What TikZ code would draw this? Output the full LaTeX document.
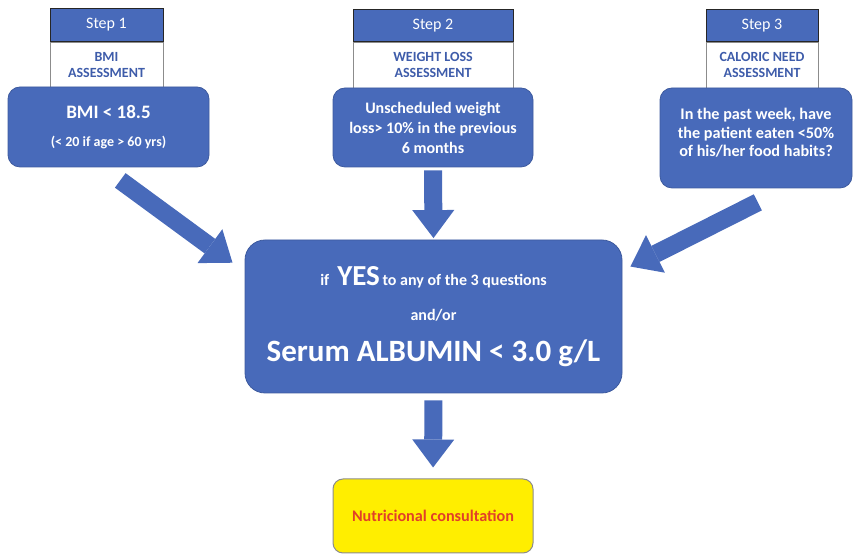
\documentclass[tikz,border=0pt]{standalone}
\usepackage{fontspec}
\setmainfont{Carlito}
\usetikzlibrary{arrows.meta}
\definecolor{boxblue}{RGB}{72,106,186}
\definecolor{labelblue}{RGB}{62,92,170}
\definecolor{signyellow}{RGB}{255,238,0}
\definecolor{signred}{RGB}{225,64,40}
\tikzset{
  stephead/.style={fill=boxblue, draw=black!85, line width=1pt, text=white,
    minimum height=33pt, inner sep=0pt, font=\fontsize{16}{18}\selectfont},
  steplabel/.style={fill=white, draw=black!45, line width=0.6pt, text=labelblue,
    minimum height=46pt, align=center, inner sep=0pt,
    font=\bfseries\fontsize{14}{15.5}\selectfont},
  question/.style={fill=boxblue, draw=boxblue!85!black, line width=0.8pt,
    rounded corners=12pt, text=white, align=center, inner sep=0pt,
    font=\bfseries\fontsize{16}{20}\selectfont},
  bigarrow/.style={draw=boxblue, line width=18pt,
    -{Triangle[width=42pt,length=28pt,line width=0pt]}}
}
\begin{document}
\begin{tikzpicture}[x=1pt,y=1pt]
	%%%%% START %%%%%
	\useasboundingbox (0,0) rectangle (855,556);
	
	% step 1
	\node[steplabel, minimum width=113pt] (lab1) at (106.5,491) {BMI\\ASSESSMENT};
	\node[stephead, minimum width=113pt] (head1) at (106.5,531) {Step 1};
	\node[question, minimum width=201pt, minimum height=80pt] (bmi) at (108.5,429)
		{{\fontsize{19}{20}\selectfont BMI < 18.5}\\[8pt]{\fontsize{14}{16}\selectfont (< 20 if age > 60 yrs)}};
	
	% step 2
	\node[steplabel, minimum width=160pt] (lab2) at (433,491) {WEIGHT LOSS\\ASSESSMENT};
	\node[stephead, minimum width=160pt, minimum height=32pt] (head2) at (433,530) {Step 2};
	\node[question, minimum width=200pt, minimum height=79pt] (loss) at (433,428.5)
		{Unscheduled weight\\loss> 10\% in the previous\\6 months};
	
	% step 3
	\node[steplabel, minimum width=112pt] (lab3) at (762,491) {CALORIC NEED\\ASSESSMENT};
	\node[stephead, minimum width=112pt, minimum height=32pt] (head3) at (762,530) {Step 3};
	\node[question, minimum width=192pt, minimum height=100pt, text depth=11pt,
		font=\bfseries\fontsize{16.2}{18.5}\selectfont] (food) at (756,418)
		{In the past week, have\\the patient eaten <50\%\\of his/her food habits?};
	
	% result
	\node[question, rounded corners=20pt, minimum width=377pt, minimum height=153pt] (albumin) at (433.5,239.5)
		{if\enspace{\fontsize{29}{30}\selectfont YES}\,to any of the 3 questions\\[15pt]
		 and/or\\[18pt]
		 {\fontsize{31}{30}\selectfont Serum ALBUMIN < 3.0 g/L}};
	
	\node[draw=black!45, line width=1pt, fill=signyellow, rounded corners=10pt,
		minimum width=200pt, minimum height=74pt, text=signred,
		font=\bfseries\fontsize{16.2}{18}\selectfont] (consult) at (433,40) {Nutricional consultation};
	
	% arrows
	\draw[bigarrow, shorten <=22pt, shorten >=15pt] ([xshift=-6pt]bmi.south) -- ([yshift=-32pt]albumin.north west);
	\draw[bigarrow, shorten <=3pt, shorten >=1.5pt] (loss.south) -- (albumin.north);
	\draw[bigarrow, shorten <=31pt, shorten >=9pt] ([xshift=29.5pt]food.south) -- ([yshift=-31pt]albumin.north east);
	\draw[bigarrow, shorten <=7pt, shorten >=11pt] (albumin.south) -- (consult.north);
	%%%%% END %%%%%
\end{tikzpicture}
\end{document}
